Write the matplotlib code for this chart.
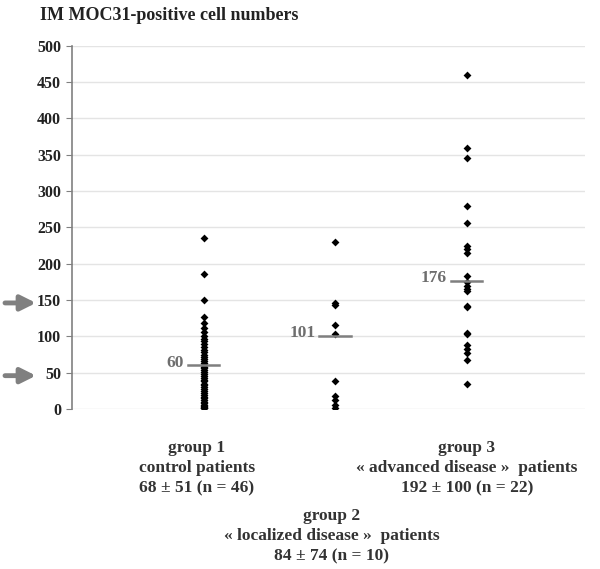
import matplotlib
matplotlib.use("Agg")
import matplotlib.pyplot as plt

group1 = [235, 186, 150, 127, 119, 112, 106, 101, 97, 93, 89, 85, 81, 78, 75, 72,
          69, 66, 63, 61, 58, 56, 54, 51, 48, 46, 43, 40, 38, 35, 33, 30, 27, 25,
          22, 20, 17, 15, 12, 10, 8, 6, 4, 3, 2, 1]
group2 = [230, 146, 143, 116, 103, 38, 18, 12, 5, 1]
group3 = [459, 359, 346, 280, 256, 224, 220, 215, 183, 175, 169, 165, 163, 142,
          140, 105, 103, 88, 82, 77, 67, 34]
medians = [60, 101, 176]
median_labels = ["60", "101", "176"]
yticks = [0, 50, 100, 150, 200, 250, 300, 350, 400, 450, 500]
arrow_values = [150, 50]
title = "IM MOC31-positive cell numbers"
group_texts = [
    "group 1\ncontrol patients\n68 ± 51 (n = 46)",
    "group 2\n« localized disease »  patients\n84 ± 74 (n = 10)",
    "group 3\n« advanced disease »  patients\n192 ± 100 (n = 22)",
]

plt.rcParams['font.family'] = ['Liberation Serif', 'DejaVu Serif']
fig = plt.figure(figsize=(6.0, 5.69), dpi=100)
ax = fig.add_axes([0.12, 0.281, 0.855, 0.639])
ax.set_xlim(0, 3.9)
ax.set_ylim(0, 500)

for i, vals in enumerate([group1, group2, group3]):
    x = i + 1
    ax.scatter([x] * len(vals), vals, marker='D', s=16, color='black', zorder=3,
               linewidths=0)
    ax.plot([x - 0.12, x + 0.12], [medians[i], medians[i]], color='#7f7f7f', lw=1.8,
            zorder=4)
    ax.text(x - 0.15, medians[i] + 4, median_labels[i], ha='right', va='center',
            fontsize=12.5, fontweight='bold', color='#6e6e6e')

ax.set_yticks(yticks)
ax.set_yticklabels([str(v) for v in yticks], fontsize=11.5, fontweight='bold',
                   color='#222222')
ax.set_xticks([])
ax.yaxis.grid(True, color='#e4e4e4', lw=1)
ax.set_axisbelow(True)
for s in ['top', 'right', 'bottom']:
    ax.spines[s].set_visible(False)
ax.spines['left'].set_color('#808080')
ax.spines['left'].set_linewidth(1.2)
ax.tick_params(axis='y', length=4, color='#808080', pad=4)

for v in arrow_values:
    ax.annotate('', xy=(36 / 600, v - 4), xytext=(5 / 600, v - 4),
                xycoords=('figure fraction', 'data'),
                textcoords=('figure fraction', 'data'),
                arrowprops=dict(arrowstyle='-|>,head_width=0.45,head_length=0.9',
                                color='#808080', lw=3.5, shrinkA=0, shrinkB=0),
                annotation_clip=False)

fig.text(40 / 600, 1 - 15 / 569, title, ha='left', va='center', fontsize=13,
         fontweight='bold', color='#222222')

pos = [(197, 468), (332, 536), (467, 468)]
for (px, py), t in zip(pos, group_texts):
    fig.text(px / 600, 1 - py / 569, t, ha='center', va='center', fontsize=12.5,
             fontweight='bold', color='#333333', linespacing=1.35)

fig.savefig("out.png", dpi=100)
